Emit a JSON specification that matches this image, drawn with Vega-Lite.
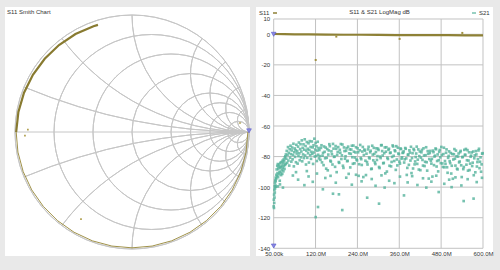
{
"$schema":"https://vega.github.io/schema/vega-lite/v6.json",
"background":"#e9e9e9",
"padding":{"left":5,"top":7,"right":10,"bottom":14},
"spacing":3,
"resolve":{"scale":{"color":"independent","fill":"independent"},"legend":{"color":"independent","fill":"independent"}},
"config":{"view":{"stroke":null},"font":"Liberation Sans","axis":{"labelOverlap":false,"labelFontSize":6,"labelColor":"#333333","domain":false,"ticks":false,"grid":false,"title":null,"labelFlush":false}},
"datasets":{
"circles":[
{"cx":0,"cy":0,"r":1,"t1":0,"t2":6.2832},
{"cx":0.1667,"cy":0,"r":0.8333,"t1":0,"t2":6.2832},
{"cx":0.3333,"cy":0,"r":0.6667,"t1":0,"t2":6.2832},
{"cx":0.5,"cy":0,"r":0.5,"t1":0,"t2":6.2832},
{"cx":0.6667,"cy":0,"r":0.3333,"t1":0,"t2":6.2832},
{"cx":0.75,"cy":0,"r":0.25,"t1":0,"t2":6.2832},
{"cx":0.8333,"cy":0,"r":0.1667,"t1":0,"t2":6.2832},
{"cx":0.9091,"cy":0,"r":0.0909,"t1":0,"t2":6.2832},
{"cx":1,"cy":5,"r":5,"t1":3.1416,"t2":3.5364},
{"cx":1,"cy":2,"r":2,"t1":3.1416,"t2":4.0689},
{"cx":1,"cy":1,"r":1,"t1":3.1416,"t2":4.7124},
{"cx":1,"cy":0.5,"r":0.5,"t1":3.1416,"t2":5.3559},
{"cx":1,"cy":0.3333,"r":0.3333,"t1":3.1416,"t2":5.6397},
{"cx":1,"cy":0.2,"r":0.2,"t1":3.1416,"t2":5.8884},
{"cx":1,"cy":0.1,"r":0.1,"t1":3.1416,"t2":6.0839},
{"cx":1,"cy":-5,"r":5,"t1":0,"t2":-0.3948},
{"cx":1,"cy":-2,"r":2,"t1":0,"t2":-0.9273},
{"cx":1,"cy":-1,"r":1,"t1":0,"t2":-1.5708},
{"cx":1,"cy":-0.5,"r":0.5,"t1":0,"t2":-2.2143},
{"cx":1,"cy":-0.3333,"r":0.3333,"t1":0,"t2":-2.4981},
{"cx":1,"cy":-0.2,"r":0.2,"t1":0,"t2":-2.7468},
{"cx":1,"cy":-0.1,"r":0.1,"t1":0,"t2":-2.9423}
],
"axisline":[{"a":-1,"b":1,"c":0}],
"smith":[
{"re":0.99,"im":0,"o":0,"seg":"a"},{"re":0.975,"im":-0.172,"o":1,"seg":"a"},{"re":0.93,"im":-0.339,"o":2,"seg":"a"},{"re":0.857,"im":-0.495,"o":3,"seg":"a"},{"re":0.758,"im":-0.636,"o":4,"seg":"a"},{"re":0.636,"im":-0.758,"o":5,"seg":"a"},{"re":0.495,"im":-0.857,"o":6,"seg":"a"},{"re":0.339,"im":-0.93,"o":7,"seg":"a"},{"re":0.172,"im":-0.975,"o":8,"seg":"a"},{"re":0,"im":-0.99,"o":9,"seg":"a"},{"re":-0.172,"im":-0.975,"o":10,"seg":"a"},{"re":-0.339,"im":-0.93,"o":11,"seg":"a"},{"re":-0.495,"im":-0.857,"o":12,"seg":"a"},{"re":-0.636,"im":-0.758,"o":13,"seg":"a"},{"re":-0.758,"im":-0.636,"o":14,"seg":"a"},{"re":-0.857,"im":-0.495,"o":15,"seg":"a"},{"re":-0.93,"im":-0.339,"o":16,"seg":"a"},{"re":-0.975,"im":-0.172,"o":17,"seg":"a"},{"re":-0.99,"im":0,"o":18,"seg":"a"},
{"re":-0.99,"im":0,"o":0,"seg":"b"},{"re":-0.971,"im":0.171,"o":1,"seg":"b"},{"re":-0.923,"im":0.336,"o":2,"seg":"b"},{"re":-0.847,"im":0.489,"o":3,"seg":"b"},{"re":-0.746,"im":0.626,"o":4,"seg":"b"},{"re":-0.624,"im":0.743,"o":5,"seg":"b"},{"re":-0.483,"im":0.837,"o":6,"seg":"b"},{"re":-0.329,"im":0.904,"o":7,"seg":"b"},{"re":-0.291,"im":0.916,"o":8,"seg":"b"}
],
"smithdots":[{"re":-0.89,"im":0.02},{"re":-0.915,"im":-0.03},{"re":-0.436,"im":-0.744},{"re":0.923,"im":0.077}],
"smithmk":[{"re":1,"im":0.01}],
"gx":[{"g":0.05},{"g":120},{"g":240},{"g":360},{"g":480},{"g":600}],
"gy":[{"h":10},{"h":0},{"h":-20},{"h":-40},{"h":-60},{"h":-80},{"h":-100},{"h":-120},{"h":-140}],
"s11":[{"f":0.05,"v":0.2},{"f":30,"v":0.1},{"f":60,"v":0},{"f":100,"v":-0.1},{"f":150,"v":-0.2},{"f":200,"v":-0.3},{"f":250,"v":-0.3},{"f":300,"v":-0.4},{"f":350,"v":-0.5},{"f":400,"v":-0.5},{"f":450,"v":-0.6},{"f":500,"v":-0.6},{"f":550,"v":-0.7},{"f":600,"v":-0.7}],
"s11dots":[{"f":120.4,"v":-16.8},{"f":179.5,"v":-1.5},{"f":361,"v":-3},{"f":540.7,"v":0.9}],
"mk":[{"f":0.05,"v":0},{"f":0.05,"v":-138.5}],
"s21":[
{"f":0.05,"s":-112.5},{"f":0.4,"s":-108.2},{"f":0.8,"s":-113.6},{"f":1.2,"s":-104.9},{"f":1.6,"s":-110.3},{"f":2.0,"s":-101.7},{"f":2.4,"s":-106.8},{"f":2.8,"s":-99.4},{"f":3.2,"s":-103.5},{"f":3.6,"s":-97.2},{"f":4.0,"s":-100.8},{"f":4.5,"s":-95.6},{"f":5.0,"s":-98.9},{"f":5.5,"s":-96.1},{"f":6.0,"s":-93.8},{"f":6.6,"s":-99.7},{"f":7.2,"s":-94.5},{"f":7.8,"s":-91.9},
{"f":8.6,"s":-88.4},{"f":9.4,"s":-92.7},{"f":10.2,"s":-86.1},{"f":11.0,"s":-90.8},{"f":11.8,"s":-84.9},{"f":12.6,"s":-93.5},{"f":13.4,"s":-88.0},{"f":14.2,"s":-86.7},{"f":15.0,"s":-91.6},{"f":15.8,"s":-85.3},{"f":16.6,"s":-89.9},{"f":17.4,"s":-95.8},{"f":18.2,"s":-87.2},{"f":19.0,"s":-84.1},{"f":19.8,"s":-90.4},{"f":20.6,"s":-86.8},{"f":21.4,"s":-92.1},{"f":22.2,"s":-83.6},{"f":23.0,"s":-88.7},{"f":23.8,"s":-85.9},{"f":24.6,"s":-91.3},{"f":25.4,"s":-82.7},{"f":26.2,"s":-87.5},{"f":27.0,"s":-84.4},{"f":27.8,"s":-89.6},{"f":28.6,"s":-81.9},{"f":29.4,"s":-86.2},{"f":30.2,"s":-83.0},{"f":31.0,"s":-88.1},{"f":31.8,"s":-80.6},{"f":32.6,"s":-85.4},{"f":33.4,"s":-79.8},{"f":34.2,"s":-84.7},{"f":35.0,"s":-78.6},{"f":12.0,"s":-99.5},{"f":18.0,"s":-98.2},{"f":26.5,"s":-100.3},
{"f":36.2,"s":-81.4},{"f":37.4,"s":-76.3},{"f":38.6,"s":-84.1},{"f":39.8,"s":-79.0},{"f":41.0,"s":-73.8},{"f":42.2,"s":-82.6},{"f":43.4,"s":-77.5},{"f":44.6,"s":-85.9},{"f":45.8,"s":-75.2},{"f":47.0,"s":-80.7},{"f":48.2,"s":-72.9},{"f":49.4,"s":-78.4},{"f":50.6,"s":-83.3},{"f":51.8,"s":-76.0},{"f":53.0,"s":-74.1},{"f":54.2,"s":-81.8},{"f":55.4,"s":-78.9},{"f":56.6,"s":-71.6},{"f":57.8,"s":-86.4},{"f":59.0,"s":-77.1},{"f":60.2,"s":-74.7},{"f":61.4,"s":-80.2},{"f":62.6,"s":-75.8},{"f":63.8,"s":-83.7},{"f":65.0,"s":-72.3},{"f":66.2,"s":-78.0},{"f":67.4,"s":-76.4},{"f":68.6,"s":-84.6},{"f":69.8,"s":-73.5},{"f":71.0,"s":-79.7},{"f":72.2,"s":-70.8},{"f":73.4,"s":-77.9},{"f":74.6,"s":-82.4},{"f":75.8,"s":-75.1},{"f":77.0,"s":-71.9},{"f":78.2,"s":-80.5},{"f":79.4,"s":-76.7},{"f":80.6,"s":-69.4},{"f":81.8,"s":-83.1},{"f":83.0,"s":-74.3},{"f":84.2,"s":-78.6},{"f":85.4,"s":-72.0},{"f":86.6,"s":-81.0},{"f":87.8,"s":-75.5},{"f":89.0,"s":-68.7},{"f":90.2,"s":-79.3},{"f":91.4,"s":-73.1},{"f":92.6,"s":-85.2},{"f":93.8,"s":-76.2},{"f":95.0,"s":-70.5},{"f":96.2,"s":-80.8},{"f":97.4,"s":-74.9},{"f":98.6,"s":-77.8},{"f":99.8,"s":-71.3},{"f":101.0,"s":-83.9},{"f":102.2,"s":-75.7},{"f":103.4,"s":-69.9},{"f":104.6,"s":-79.1},{"f":105.8,"s":-73.7},{"f":107.0,"s":-81.5},{"f":108.2,"s":-76.9},{"f":109.4,"s":-70.1},{"f":110.6,"s":-78.2},{"f":111.8,"s":-74.0},{"f":113.0,"s":-84.8},{"f":114.2,"s":-72.6},{"f":115.4,"s":-77.3},{"f":116.6,"s":-68.3},{"f":117.8,"s":-80.0},{"f":119.0,"s":-75.4},{"f":120.2,"s":-71.1},{"f":121.4,"s":-79.6},{"f":122.6,"s":-73.3},{"f":123.8,"s":-82.9},{"f":125.0,"s":-76.1},{"f":126.2,"s":-70.3},{"f":127.4,"s":-78.8},{"f":128.6,"s":-74.4},{"f":129.8,"s":-81.2},
{"f":55,"s":-92.4},{"f":70,"s":-95.1},{"f":88,"s":-98.7},{"f":100,"s":-93.0},{"f":112,"s":-96.5},{"f":120.4,"s":-119.6},{"f":64,"s":-90.2},{"f":95,"s":-89.5},{"f":124,"s":-91.1},
{"f":131.0,"s":-75.7},{"f":132.5,"s":-79.7},{"f":134.0,"s":-82.1},{"f":135.5,"s":-74.3},{"f":137.0,"s":-72.6},{"f":138.5,"s":-83.8},{"f":140.0,"s":-79.4},{"f":141.5,"s":-77.6},{"f":143.0,"s":-85.6},{"f":144.5,"s":-73.4},{"f":146.0,"s":-76.9},{"f":147.5,"s":-81.1},{"f":149.0,"s":-74.1},{"f":150.5,"s":-87.9},{"f":152.0,"s":-80.8},{"f":153.5,"s":-75.1},{"f":155.0,"s":-89.0},{"f":156.5,"s":-78.7},{"f":158.0,"s":-76.0},{"f":159.5,"s":-71.9},{"f":161.0,"s":-73.2},{"f":162.5,"s":-82.7},{"f":164.0,"s":-83.3},{"f":165.5,"s":-76.6},{"f":167.0,"s":-78.5},{"f":168.5,"s":-85.2},{"f":170.0,"s":-71.7},{"f":171.5,"s":-74.8},{"f":173.0,"s":-80.2},{"f":174.5,"s":-80.0},{"f":176.0,"s":-86.7},{"f":177.5,"s":-73.1},{"f":179.0,"s":-74.9},{"f":180.5,"s":-90.2},{"f":182.0,"s":-78.9},{"f":183.5,"s":-77.0},{"f":185.0,"s":-73.8},{"f":186.5,"s":-83.6},{"f":188.0,"s":-84.1},{"f":189.5,"s":-75.6},{"f":191.0,"s":-77.5},{"f":192.5,"s":-71.8},{"f":194.0,"s":-81.6},{"f":195.5,"s":-79.2},{"f":197.0,"s":-72.1},{"f":198.5,"s":-86.0},{"f":200.0,"s":-87.4},{"f":201.5,"s":-74.0},{"f":203.0,"s":-76.4},{"f":204.5,"s":-81.4},{"f":206.0,"s":-79.8},{"f":207.5,"s":-76.2},{"f":209.0,"s":-74.5},{"f":210.5,"s":-83.0},{"f":212.0,"s":-82.8},{"f":213.5,"s":-73.5},{"f":215.0,"s":-91.3},{"f":216.5,"s":-77.9},{"f":218.0,"s":-75.3},{"f":219.5,"s":-87.1},{"f":221.0,"s":-78.2},{"f":222.5,"s":-75.4},{"f":224.0,"s":-72.9},{"f":225.5,"s":-80.4},{"f":227.0,"s":-84.7},{"f":228.5,"s":-72.8},{"f":230.0,"s":-76.8},{"f":231.5,"s":-84.4},{"f":233.0,"s":-80.6},{"f":234.5,"s":-77.3},{"f":236.0,"s":-73.9},{"f":237.5,"s":-81.9},{"f":239.0,"s":-82.5},{"f":240.5,"s":-74.6},{"f":242.0,"s":-77.2},{"f":243.5,"s":-92.6},{"f":245.0,"s":-85.0},{"f":246.5,"s":-75.9},{"f":248.0,"s":-72.4},{"f":249.5,"s":-80.9},
{"f":251.0,"s":-81.7},{"f":252.5,"s":-85.5},{"f":254.0,"s":-76.7},{"f":255.5,"s":-73.7},{"f":257.0,"s":-93.4},{"f":258.5,"s":-79.0},{"f":260.0,"s":-75.4},{"f":261.5,"s":-76.1},{"f":263.0,"s":-82.7},{"f":264.5,"s":-92.1},{"f":266.0,"s":-78.1},{"f":267.5,"s":-83.6},{"f":269.0,"s":-85.2},{"f":270.5,"s":-75.3},{"f":272.0,"s":-73.6},{"f":273.5,"s":-80.6},{"f":275.0,"s":-81.2},{"f":276.5,"s":-77.2},{"f":278.0,"s":-76.2},{"f":279.5,"s":-88.2},{"f":281.0,"s":-87.9},{"f":282.5,"s":-72.9},{"f":284.0,"s":-78.7},{"f":285.5,"s":-82.4},{"f":287.0,"s":-74.3},{"f":288.5,"s":-78.3},{"f":290.0,"s":-83.8},{"f":291.5,"s":-84.9},{"f":293.0,"s":-77.0},{"f":294.5,"s":-74.6},{"f":296.0,"s":-82.2},{"f":297.5,"s":-79.7},{"f":299.0,"s":-74.8},{"f":300.5,"s":-75.7},{"f":302.0,"s":-86.8},{"f":303.5,"s":-87.5},{"f":305.0,"s":-80.0},{"f":306.5,"s":-81.0},{"f":308.0,"s":-72.6},{"f":309.5,"s":-72.5},{"f":311.0,"s":-76.4},{"f":312.5,"s":-79.3},{"f":314.0,"s":-84.4},{"f":315.5,"s":-84.1},{"f":317.0,"s":-77.8},{"f":318.5,"s":-74.0},{"f":320.0,"s":-91.0},{"f":321.5,"s":-76.8},{"f":323.0,"s":-73.9},{"f":324.5,"s":-89.8},{"f":326.0,"s":-80.8},{"f":327.5,"s":-81.6},{"f":329.0,"s":-75.6},{"f":330.5,"s":-74.9},{"f":332.0,"s":-86.0},{"f":333.5,"s":-77.7},{"f":335.0,"s":-77.4},{"f":336.5,"s":-86.4},{"f":338.0,"s":-83.5},{"f":339.5,"s":-80.2},{"f":341.0,"s":-72.7},{"f":342.5,"s":-73.4},{"f":344.0,"s":-79.5},{"f":345.5,"s":-82.9},{"f":347.0,"s":-75.9},{"f":348.5,"s":-76.5},{"f":350.0,"s":-88.7},{"f":351.5,"s":-73.2},{"f":353.0,"s":-81.9},{"f":354.5,"s":-85.8},{"f":356.0,"s":-74.2},{"f":357.5,"s":-78.0},{"f":359.0,"s":-78.4},{"f":360.5,"s":-83.3},{"f":362.0,"s":-84.6},{"f":363.5,"s":-74.7},{"f":365.0,"s":-75.1},{"f":366.5,"s":-81.4},{"f":368.0,"s":-80.5},{"f":369.5,"s":-77.6},
{"f":371.0,"s":-77.5},{"f":372.5,"s":-76.6},{"f":374.0,"s":-83.9},{"f":375.5,"s":-81.8},{"f":377.0,"s":-74.4},{"f":378.5,"s":-74.9},{"f":380.0,"s":-81.2},{"f":381.5,"s":-92.0},{"f":383.0,"s":-87.4},{"f":384.5,"s":-78.8},{"f":386.0,"s":-78.7},{"f":387.5,"s":-85.4},{"f":389.0,"s":-75.9},{"f":390.5,"s":-77.4},{"f":392.0,"s":-82.6},{"f":393.5,"s":-73.6},{"f":395.0,"s":-90.8},{"f":396.5,"s":-81.0},{"f":398.0,"s":-77.8},{"f":399.5,"s":-87.8},{"f":401.0,"s":-75.0},{"f":402.5,"s":-75.8},{"f":404.0,"s":-85.1},{"f":405.5,"s":-83.2},{"f":407.0,"s":-80.3},{"f":408.5,"s":-78.0},{"f":410.0,"s":-73.5},{"f":411.5,"s":-84.8},{"f":413.0,"s":-82.0},{"f":414.5,"s":-75.3},{"f":416.0,"s":-88.5},{"f":417.5,"s":-79.7},{"f":419.0,"s":-76.7},{"f":420.5,"s":-88.9},{"f":422.0,"s":-80.7},{"f":423.5,"s":-77.2},{"f":425.0,"s":-75.6},{"f":426.5,"s":-82.2},{"f":428.0,"s":-85.9},{"f":429.5,"s":-74.6},{"f":431.0,"s":-79.3},{"f":432.5,"s":-86.2},{"f":434.0,"s":-83.4},{"f":435.5,"s":-79.1},{"f":437.0,"s":-73.9},{"f":438.5,"s":-83.7},{"f":440.0,"s":-89.2},{"f":441.5,"s":-76.4},{"f":443.0,"s":-78.2},{"f":444.5,"s":-94.4},{"f":446.0,"s":-81.6},{"f":447.5,"s":-77.7},{"f":449.0,"s":-76.3},{"f":450.5,"s":-82.7},{"f":452.0,"s":-84.6},{"f":453.5,"s":-81.5},{"f":455.0,"s":-93.1},{"f":456.5,"s":-76.1},{"f":458.0,"s":-77.1},{"f":459.5,"s":-85.6},{"f":461.0,"s":-80.0},{"f":462.5,"s":-79.4},{"f":464.0,"s":-74.7},{"f":465.5,"s":-75.2},{"f":467.0,"s":-86.5},{"f":468.5,"s":-82.9},{"f":470.0,"s":-78.6},{"f":471.5,"s":-89.7},{"f":473.0,"s":-82.4},{"f":474.5,"s":-76.9},{"f":476.0,"s":-75.7},{"f":477.5,"s":-80.5},{"f":479.0,"s":-84.3},{"f":480.5,"s":-73.7},{"f":482.0,"s":-79.0},{"f":483.5,"s":-84.5},{"f":485.0,"s":-86.8},{"f":486.5,"s":-78.4},{"f":488.0,"s":-74.2},{"f":489.5,"s":-87.0},
{"f":491.0,"s":-82.9},{"f":492.5,"s":-84.8},{"f":494.0,"s":-77.5},{"f":495.5,"s":-75.3},{"f":497.0,"s":-87.0},{"f":498.5,"s":-90.6},{"f":500.0,"s":-80.8},{"f":501.5,"s":-79.6},{"f":503.0,"s":-76.6},{"f":504.5,"s":-83.0},{"f":506.0,"s":-84.3},{"f":507.5,"s":-77.7},{"f":509.0,"s":-91.1},{"f":510.5,"s":-86.0},{"f":512.0,"s":-78.3},{"f":513.5,"s":-94.5},{"f":515.0,"s":-81.9},{"f":516.5,"s":-78.5},{"f":518.0,"s":-75.1},{"f":519.5,"s":-81.4},{"f":521.0,"s":-85.9},{"f":522.5,"s":-76.1},{"f":524.0,"s":-79.8},{"f":525.5,"s":-87.9},{"f":527.0,"s":-88.4},{"f":528.5,"s":-80.0},{"f":530.0,"s":-78.0},{"f":531.5,"s":-83.8},{"f":533.0,"s":-83.2},{"f":534.5,"s":-77.1},{"f":536.0,"s":-76.3},{"f":537.5,"s":-85.7},{"f":539.0,"s":-93.4},{"f":540.5,"s":-80.4},{"f":542.0,"s":-80.2},{"f":543.5,"s":-88.2},{"f":545.0,"s":-86.8},{"f":546.5,"s":-75.6},{"f":548.0,"s":-78.8},{"f":549.5,"s":-78.9},{"f":551.0,"s":-75.0},{"f":552.5,"s":-85.3},{"f":554.0,"s":-82.4},{"f":555.5,"s":-75.8},{"f":557.0,"s":-89.2},{"f":558.5,"s":-82.6},{"f":560.0,"s":-77.2},{"f":561.5,"s":-88.8},{"f":563.0,"s":-84.6},{"f":564.5,"s":-80.1},{"f":566.0,"s":-79.4},{"f":567.5,"s":-77.3},{"f":569.0,"s":-86.2},{"f":570.5,"s":-84.0},{"f":572.0,"s":-76.7},{"f":573.5,"s":-92.2},{"f":575.0,"s":-81.1},{"f":576.5,"s":-79.2},{"f":578.0,"s":-90.3},{"f":579.5,"s":-76.4},{"f":581.0,"s":-78.6},{"f":582.5,"s":-86.5},{"f":584.0,"s":-83.6},{"f":585.5,"s":-81.7},{"f":587.0,"s":-76.0},{"f":588.5,"s":-74.9},{"f":590.0,"s":-87.6},{"f":591.5,"s":-83.4},{"f":593.0,"s":-80.5},{"f":594.5,"s":-89.9},{"f":596.0,"s":-85.1},{"f":597.5,"s":-78.1},{"f":599.0,"s":-77.8},
{"f":127,"s":-113},{"f":170,"s":-104.3},{"f":187,"s":-104.7},{"f":196.6,"s":-115},{"f":268,"s":-106.9},{"f":302,"s":-110.8},{"f":373.5,"s":-105.4},{"f":473,"s":-103.2},{"f":544.6,"s":-109.1},{"f":573,"s":-107.5},{"f":141,"s":-101.4},{"f":318,"s":-100.3},{"f":437.5,"s":-100.3},{"f":510,"s":-100},
{"f":148,"s":-94.0},{"f":163,"s":-92.6},{"f":178,"s":-97.1},{"f":208,"s":-93.8},{"f":224,"s":-98.4},{"f":236,"s":-91.9},{"f":252,"s":-96.2},{"f":281,"s":-94.7},{"f":292,"s":-99.1},{"f":309,"s":-92.3},{"f":331,"s":-95.8},{"f":346,"s":-97.4},{"f":362,"s":-93.1},{"f":384,"s":-96.9},{"f":397,"s":-92.8},{"f":412,"s":-98.6},{"f":428,"s":-94.2},{"f":452,"s":-96.4},{"f":466,"s":-92.5},{"f":489,"s":-97.8},{"f":503,"s":-95.1},{"f":521,"s":-93.6},{"f":538,"s":-98.9},{"f":556,"s":-94.8},{"f":582,"s":-96.7},{"f":597,"s":-93.9}
]
},
"hconcat":[
{
"width":245,"height":249,
"view":{"fill":"white","stroke":null},
"title":{"text":"S11 Smith Chart","anchor":"start","frame":"group","fontSize":6,"fontWeight":"normal","color":"#333333","offset":-8,"dx":2},
"layer":[
{"data":{"name":"circles"},"mark":{"type":"arc","filled":false,"stroke":"#c6c6c6","strokeWidth":1},
"encoding":{
"x":{"field":"cx","type":"quantitative","scale":{"domain":[-1.0855,1.0085],"nice":false,"zero":false},"axis":null},
"y":{"field":"cy","type":"quantitative","scale":{"domain":[-1.0598,1.0684],"nice":false,"zero":false},"axis":null},
"radius":{"field":"r","type":"quantitative","scale":{"type":"linear","domain":[0,1],"range":[0,117],"zero":true}},
"radius2":{"field":"r"},
"theta":{"field":"t1","type":"quantitative","scale":null,"stack":null},
"theta2":{"field":"t2"}}},
{"data":{"name":"axisline"},"mark":{"type":"rule","stroke":"#c6c6c6","strokeWidth":1},
"encoding":{
"x":{"field":"a","type":"quantitative","scale":{"domain":[-1.0855,1.0085],"nice":false,"zero":false},"axis":null},
"x2":{"field":"b"},
"y":{"field":"c","type":"quantitative","scale":{"domain":[-1.0598,1.0684],"nice":false,"zero":false},"axis":null}}},
{"data":{"name":"smith"},"transform":[{"filter":"datum.seg == 'a'"}],"mark":{"type":"line","color":"#a0924a","strokeWidth":1},
"encoding":{
"x":{"field":"re","type":"quantitative","scale":{"domain":[-1.0855,1.0085],"nice":false,"zero":false},"axis":null},
"y":{"field":"im","type":"quantitative","scale":{"domain":[-1.0598,1.0684],"nice":false,"zero":false},"axis":null},
"order":{"field":"o","type":"quantitative"}}},
{"data":{"name":"smith"},"transform":[{"filter":"datum.seg == 'b'"}],"mark":{"type":"line","color":"#887a30","strokeWidth":2.2},
"encoding":{
"x":{"field":"re","type":"quantitative","scale":{"domain":[-1.0855,1.0085],"nice":false,"zero":false},"axis":null},
"y":{"field":"im","type":"quantitative","scale":{"domain":[-1.0598,1.0684],"nice":false,"zero":false},"axis":null},
"order":{"field":"o","type":"quantitative"}}},
{"data":{"name":"smithdots"},"mark":{"type":"square","color":"#b0a050","size":3,"opacity":1},
"encoding":{
"x":{"field":"re","type":"quantitative","scale":{"domain":[-1.0855,1.0085],"nice":false,"zero":false},"axis":null},
"y":{"field":"im","type":"quantitative","scale":{"domain":[-1.0598,1.0684],"nice":false,"zero":false},"axis":null}}},
{"data":{"name":"smithmk"},"mark":{"type":"point","shape":"triangle-down","filled":true,"fill":"#8a8ae4","stroke":"#5656c8","strokeWidth":0.6,"size":22,"opacity":1},
"encoding":{
"x":{"field":"re","type":"quantitative","scale":{"domain":[-1.0855,1.0085],"nice":false,"zero":false},"axis":null},
"y":{"field":"im","type":"quantitative","scale":{"domain":[-1.0598,1.0684],"nice":false,"zero":false},"axis":null}}}
]
},
{
"width":237,"height":249,
"view":{"fill":"white","stroke":null},
"title":{"text":"S11 & S21 LogMag dB","anchor":"middle","frame":"group","fontSize":6,"fontWeight":"normal","color":"#333333","offset":-8,"dx":5},
"layer":[
{"data":{"name":"gx"},"mark":{"type":"rule","stroke":"#c2c2c2","strokeWidth":1},
"encoding":{
"x":{"field":"g","type":"quantitative","scale":{"domain":[-50.69,628.67],"nice":false,"zero":false},
"axis":{"values":[0.05,120,240,360,480,600],"tickCount":20,"labelExpr":"datum.value < 1 ? '50.00k' : format(datum.value, '.1f') + 'M'","offset":-8,"labelPadding":2,"labelOverlap":false}},
"y":{"datum":-140,"type":"quantitative","scale":{"domain":[-145.04,17.85],"nice":false,"zero":false}},
"y2":{"datum":10}}},
{"data":{"name":"gy"},"mark":{"type":"rule","stroke":"#c2c2c2","strokeWidth":1},
"encoding":{
"y":{"field":"h","type":"quantitative","scale":{"domain":[-145.04,17.85],"nice":false,"zero":false},
"axis":{"values":[10,0,-20,-40,-60,-80,-100,-120,-140],"tickCount":20,"labelExpr":"datum.value + ''","offset":-17.7,"labelPadding":4,"labelOverlap":false}},
"x":{"datum":0.05,"type":"quantitative","scale":{"domain":[-50.69,628.67],"nice":false,"zero":false}},
"x2":{"datum":600}}},
{"data":{"name":"s21"},"mark":{"type":"square","size":7,"opacity":0.8},
"encoding":{
"x":{"field":"f","type":"quantitative","scale":{"domain":[-50.69,628.67],"nice":false,"zero":false}},
"y":{"field":"s","type":"quantitative","scale":{"domain":[-145.04,17.85],"nice":false,"zero":false}},
"fill":{"datum":"S21","type":"nominal","scale":{"range":["#55b39c"]},
"legend":{"orient":"top-right","offset":3,"padding":0,"title":null,"labelFontSize":6,"labelColor":"#333333","symbolType":"M-1,-0.3H1V0.3H-1Z","symbolSize":16,"labelOffset":2,"symbolOpacity":1}}}},
{"data":{"name":"s11"},"mark":{"type":"line","strokeWidth":2.2},
"encoding":{
"x":{"field":"f","type":"quantitative","scale":{"domain":[-50.69,628.67],"nice":false,"zero":false}},
"y":{"field":"v","type":"quantitative","scale":{"domain":[-145.04,17.85],"nice":false,"zero":false}},
"color":{"datum":"S11","type":"nominal","scale":{"range":["#8e8136"]},
"legend":{"orient":"top-left","offset":3,"padding":0,"title":"S11","titleOrient":"left","titleFontSize":6,"titleFontWeight":"normal","titleColor":"#333333","titlePadding":2,"labelExpr":"''","labelFontSize":6,"symbolType":"stroke","symbolSize":16,"symbolStrokeWidth":1.5}}}},
{"data":{"name":"s11dots"},"mark":{"type":"square","size":4,"color":"#a09040","opacity":1},
"encoding":{
"x":{"field":"f","type":"quantitative","scale":{"domain":[-50.69,628.67],"nice":false,"zero":false}},
"y":{"field":"v","type":"quantitative","scale":{"domain":[-145.04,17.85],"nice":false,"zero":false}}}},
{"data":{"name":"mk"},"mark":{"type":"point","shape":"triangle-down","filled":true,"fill":"#8a8ae4","stroke":"#5656c8","strokeWidth":0.6,"size":22,"opacity":1},
"encoding":{
"x":{"field":"f","type":"quantitative","scale":{"domain":[-50.69,628.67],"nice":false,"zero":false}},
"y":{"field":"v","type":"quantitative","scale":{"domain":[-145.04,17.85],"nice":false,"zero":false}}}}
]
}
]
}
